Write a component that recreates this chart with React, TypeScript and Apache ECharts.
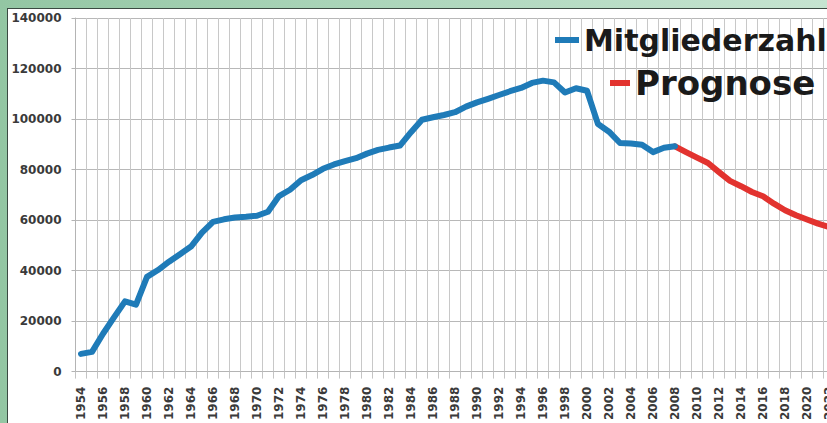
import React, { useEffect, useRef } from "react";
import * as echarts from "echarts";

const years = [
  "1954", "1955", "1956", "1957", "1958", "1959", "1960", "1961", "1962", "1963",
  "1964", "1965", "1966", "1967", "1968", "1969", "1970", "1971", "1972", "1973",
  "1974", "1975", "1976", "1977", "1978", "1979", "1980", "1981", "1982", "1983",
  "1984", "1985", "1986", "1987", "1988", "1989", "1990", "1991", "1992", "1993",
  "1994", "1995", "1996", "1997", "1998", "1999", "2000", "2001", "2002", "2003",
  "2004", "2005", "2006", "2007", "2008", "2009", "2010", "2011", "2012", "2013",
  "2014", "2015", "2016", "2017", "2018", "2019", "2020", "2021", "2022",
];

// Mitgliederzahl 1954–2008
const members = [
  7000, 7800, 15000, 21500, 27800, 26500, 37500, 40200, 43500, 46500,
  49500, 55000, 59300, 60300, 61000, 61300, 61700, 63300, 69500, 72000,
  75800, 77800, 80300, 82000, 83300, 84500, 86300, 87800, 88700, 89500,
  94800, 99700, 100700, 101600, 102700, 104900, 106600, 108000, 109500, 111000,
  112300, 114300, 115200, 114500, 110500, 112200, 111200, 98000, 95000, 90500,
  90300, 89800, 86900, 88600, 89200,
];

// Prognose 2008–2022
const forecastStart = "2008";
const forecast = [
  89200, 86900, 84700, 82600, 79000, 75500, 73400, 71100, 69400, 66500,
  63900, 61900, 60200, 58600, 57300,
];

const yTicks = { min: 0, max: 140000, interval: 20000 };

const BLUE = "#1f7bb8";
const RED = "#e2332f";

export default function App() {
  const ref = useRef<HTMLDivElement>(null);

  useEffect(() => {
    if (!ref.current) return;
    const chart = echarts.init(ref.current, undefined, { renderer: "svg" });
    const startIdx = years.indexOf(forecastStart);
    const blueData = years.map((_, i) => (i < members.length ? members[i] : null));
    const redData = years.map((_, i) =>
      i >= startIdx && i - startIdx < forecast.length ? forecast[i - startIdx] : null
    );
    const font = "'DejaVu Sans', sans-serif";
    chart.setOption({
      animation: false,
      backgroundColor: "transparent",
      grid: { left: 75.5, top: 18, width: 759, bottom: 50.5 },
      legend: [
        {
          data: ["Mitgliederzahl"],
          left: 555,
          top: 25,
          padding: 0,
          icon: "rect",
          itemWidth: 24,
          itemHeight: 6,
          textStyle: { fontFamily: font, fontWeight: "bold", fontSize: 30, color: "#1a1a1a" },
        },
        {
          data: ["Prognose"],
          left: 610,
          top: 66,
          padding: 0,
          icon: "rect",
          itemWidth: 20,
          itemHeight: 6,
          textStyle: { fontFamily: font, fontWeight: "bold", fontSize: 34, color: "#1a1a1a" },
        },
      ],
      xAxis: {
        type: "category",
        data: years,
        boundaryGap: true,
        axisLine: { show: true, lineStyle: { color: "#b4b4b4", width: 1 } },
        axisTick: { show: true, interval: 0, length: 7, lineStyle: { color: "#c4c4c4" } },
        splitLine: { show: true, interval: 0, lineStyle: { color: "#c8c8c8", width: 1 } },
        axisLabel: {
          interval: 1,
          rotate: 90,
          margin: 15,
          fontFamily: font,
          fontWeight: "bold",
          fontSize: 12,
          color: "#3a3a3a",
        },
      },
      yAxis: {
        type: "value",
        min: yTicks.min,
        max: yTicks.max,
        interval: yTicks.interval,
        axisLine: { show: true, lineStyle: { color: "#b4b4b4", width: 1 } },
        axisTick: { show: true, length: 4, lineStyle: { color: "#b4b4b4" } },
        splitLine: { show: true, lineStyle: { color: "#b8b8b8", width: 1 } },
        axisLabel: {
          margin: 14,
          fontFamily: font,
          fontWeight: "bold",
          fontSize: 12,
          color: "#3a3a3a",
          formatter: (v: number) => String(v),
        },
      },
      series: [
        {
          name: "Mitgliederzahl",
          type: "line",
          data: blueData,
          symbol: "none",
          connectNulls: false,
          itemStyle: { color: BLUE },
          lineStyle: { color: BLUE, width: 6, cap: "round", join: "round" },
          z: 3,
        },
        {
          name: "Prognose",
          type: "line",
          data: redData,
          symbol: "none",
          connectNulls: false,
          itemStyle: { color: RED },
          lineStyle: { color: RED, width: 6, cap: "round", join: "round" },
          z: 2,
        },
      ],
    });
    return () => chart.dispose();
  }, []);

  return (
    <div
      style={{
        position: "fixed",
        left: 0,
        top: 0,
        width: 827,
        height: 423,
        overflow: "hidden",
        background: "linear-gradient(to right, #93c6a3 0%, #a9d4b8 40%, #c6e4d1 100%)",
      }}
    >
      <div
        style={{
          position: "absolute",
          left: 7,
          top: 8,
          width: 900,
          height: 500,
          background: "#ffffff",
          borderLeft: "1px solid #3b4a42",
          borderTop: "1px solid #3b4a42",
          boxSizing: "border-box",
        }}
      />
      <div
        ref={ref}
        style={{ position: "absolute", left: 0, top: 0, width: 860, height: 423 }}
      />
    </div>
  );
}
